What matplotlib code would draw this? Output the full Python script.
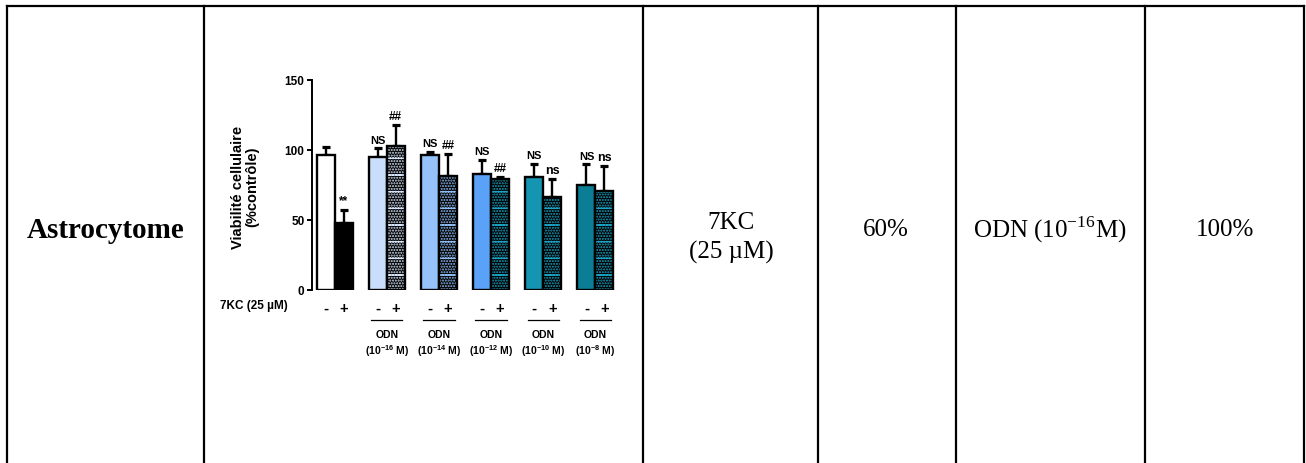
import matplotlib
matplotlib.use("Agg")
import matplotlib.pyplot as plt
from matplotlib.lines import Line2D

plt.rcParams['font.family'] = ['Liberation Sans', 'DejaVu Sans']
plt.rcParams['mathtext.fontset'] = 'custom'
plt.rcParams['mathtext.rm'] = 'Liberation Serif'
plt.rcParams['mathtext.bf'] = 'Liberation Sans:bold'
plt.rcParams['hatch.linewidth'] = 1.0

# --- data ---
ctrl_vals = [96, 94.5, 96.5, 83, 80.5, 75]
ctrl_err = [5.8, 6.5, 2.2, 10, 9.5, 14.5]
kc_vals = [47.5, 103, 81.5, 79.3, 66, 70.5]
kc_err = [9.5, 14.5, 15.2, 1.0, 13, 17.8]
ctrl_marks = ["", "NS", "NS", "NS", "NS", "NS"]
kc_marks = ["**", "##", "##", "##", "ns", "ns"]
odn_exps = [None, "-16", "-14", "-12", "-10", "-8"]
ctrl_colors = ["white", "#c9defa", "#94c2f9", "#5aa2f8", "#1496b2", "#0b7e96"]
kc_dots = [None, "#d6e6fa", "#8fbef5", "#1aa3c4", "#1aa3c4", "#1aa3c4"]

# table cells
row_name = "Astrocytome"
cell_texts = ["7KC\n(25 µM)", "60%", "ODN (10$^{\\mathrm{-16}}$M)", "100%"]
cell_x = [731, 886, 1050, 1225]
col_borders = [6.5, 204, 643, 818, 956, 1145, 1304]

W, H = 1306, 464
fig = plt.figure(figsize=(W / 100, H / 100), dpi=100)

# table grid
for xb in col_borders:
    fig.add_artist(Line2D([xb / W, xb / W], [0, 1 - 7 / H], color="black", lw=1.6))
fig.add_artist(Line2D([6.5 / W, 1304 / W], [1 - 7 / H, 1 - 7 / H], color="black", lw=1.6))

fig.text(106 / W, 1 - 231 / H, row_name, family="Liberation Serif", fontweight="bold",
         fontsize=21, ha="center", va="center")
for tx, t in zip(cell_x, cell_texts):
    yy = 238 if "\n" in t else 230
    fig.text(tx / W, 1 - yy / H, t, family="Liberation Serif", fontsize=18,
             ha="center", va="center", linespacing=1.35)

# chart
ax = fig.add_axes([311.5 / W, 1 - 290.7 / H, 308.5 / W, 210 / H])
w = 0.345
off = 0.1725
n = len(ctrl_vals)
xc = [i - off for i in range(n)]
xk = [i + off for i in range(n)]

ax.bar(xc, ctrl_vals, width=w, color=ctrl_colors, edgecolor="black", linewidth=1.7, zorder=3)
for i in range(n):
    if kc_dots[i] is None:
        ax.bar(xk[i], kc_vals[i], width=w, color="black", edgecolor="black", linewidth=1.7, zorder=3)
    else:
        ax.bar(xk[i], kc_vals[i], width=w, color="black", edgecolor=kc_dots[i],
               hatch="......-", linewidth=0, zorder=3)
        ax.bar(xk[i], kc_vals[i], width=w, color="none", edgecolor="black", linewidth=1.7, zorder=4)

ax.errorbar(xc, ctrl_vals, yerr=[[0] * n, ctrl_err], fmt="none", ecolor="black",
            elinewidth=1.7, capsize=3, capthick=2.3, zorder=2)
ax.errorbar(xk, kc_vals, yerr=[[0] * n, kc_err], fmt="none", ecolor="black",
            elinewidth=1.7, capsize=3, capthick=2.3, zorder=2)

for i in range(n):
    if ctrl_marks[i]:
        ax.text(xc[i], ctrl_vals[i] + ctrl_err[i] + 2.5, ctrl_marks[i], ha="center", va="bottom",
                fontsize=8, fontweight="bold")
    ax.text(xk[i], kc_vals[i] + kc_err[i] + 2.5, kc_marks[i], ha="center", va="bottom",
            fontsize=9 if kc_marks[i] == "ns" else 8.5, fontweight="bold")

ax.set_xlim(-0.443, 5.47)
ax.set_ylim(0, 150)
ax.set_yticks([0, 50, 100, 150])
ax.set_xticks([])
for s in ["top", "right", "bottom"]:
    ax.spines[s].set_visible(False)
ax.spines["left"].set_linewidth(1.4)
ax.tick_params(axis="y", length=3.5, width=1.4, labelsize=8.5, pad=1.5)
for lab in ax.get_yticklabels():
    lab.set_fontweight("bold")

ax.text(-0.215, 0.494, "Viabilité cellulaire\n(%contrôle)", transform=ax.transAxes,
        rotation=90, ha="center", va="center", fontsize=10.5, fontweight="bold", linespacing=0.95)

# labels under the bars
tr = ax.get_xaxis_transform()
ax.text(-0.297, -0.075, "7KC (25 µM)", transform=ax.transAxes, ha="left", va="center",
        fontsize=8.5, fontweight="bold", clip_on=False)
for i in range(n):
    ax.text(xc[i], -0.085, "-", transform=tr, ha="center", va="center", fontsize=11,
            fontweight="bold", clip_on=False)
    ax.text(xk[i], -0.085, "+", transform=tr, ha="center", va="center", fontsize=10.5,
            fontweight="bold", clip_on=False)
    if odn_exps[i] is not None:
        ax.plot([i - 0.30, i + 0.30], [-0.144, -0.144], transform=tr, color="black",
                lw=0.9, clip_on=False)
        ax.text(i, -0.211, "ODN", transform=tr, ha="center", va="center", fontsize=7.5,
                fontweight="bold", clip_on=False)
        ax.text(i, -0.29, "(10$^{\\mathbf{" + odn_exps[i] + "}}$ M)", transform=tr,
                ha="center", va="center", fontsize=7.5, fontweight="bold", clip_on=False)

fig.savefig("out.png", dpi=100)
